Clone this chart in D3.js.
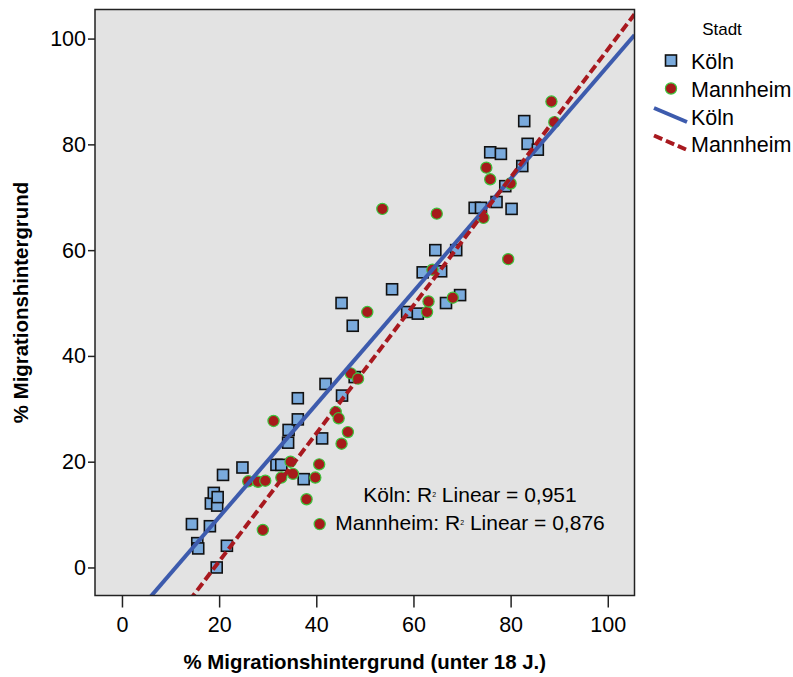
<!DOCTYPE html>
<html>
<head>
<meta charset="utf-8">
<script src="https://cdn.jsdelivr.net/npm/d3@7"></script>
<style>
    body { margin: 0; background: #fff; }
    text { font-family: "Liberation Sans", Arial, sans-serif; fill: #000; }
</style>
</head>
<body>
<svg id="chart" width="793" height="677"></svg>
<script>
// Koeln points: [% unter 18 J., % gesamt]
var koelnX = [14.4, 15.5, 15.7, 18.1, 18.3, 18.9, 19.5, 19.6, 19.7, 20.8, 21.6, 24.8, 31.8, 32.8, 34.2,
    34.3, 36.2, 36.2, 37.4, 41.2, 41.9, 45.3, 45.2, 47.5, 47.9, 55.6, 58.7, 60.9, 61.9, 64.5,
    65.7, 66.7, 68.8, 69.6, 72.6, 73.9, 77.1, 78.9, 80.2, 75.8, 78.0, 82.4, 82.8, 83.5, 85.6];
var koelnY = [8.2, 4.6, 3.6, 7.8, 12.1, 14.1, 0.0, 11.7, 13.3, 17.5, 4.1, 18.9, 19.4, 19.4, 23.6,
    26.0, 28.0, 32.0, 16.7, 24.4, 34.7, 32.5, 50.0, 45.7, 36.0, 52.6, 48.3, 48.0, 55.8, 60.0,
    56.0, 50.0, 60.0, 51.5, 68.0, 68.0, 69.1, 72.1, 67.8, 78.5, 78.2, 75.9, 84.4, 80.1, 79.0];

var mannheimX = [26.0, 28.0, 29.5, 29.0, 31.2, 32.8, 34.7, 35.2, 38.0, 39.8, 40.6, 40.7, 44.0, 44.6, 45.2,
    46.5, 47.1, 48.6, 50.5, 53.6, 62.8, 63.1, 63.9, 64.8, 68.1, 74.4, 75.0, 75.8, 79.5, 80.0,
    88.4, 89.0];
var mannheimY = [16.3, 16.2, 16.4, 7.1, 27.7, 17.0, 20.0, 17.7, 12.9, 17.0, 19.5, 8.2, 29.4, 28.2, 23.4,
    25.6, 36.7, 35.7, 48.3, 67.8, 48.3, 50.3, 56.3, 66.9, 51.0, 66.1, 75.6, 73.4, 58.3, 72.6,
    88.1, 84.2];

// linear fit lines: [intercept, slope]
var koelnFit = [-11.8, 1.066];
var mannheimFit = [-23.06, 1.21];

var xTicks = [0, 20, 40, 60, 80, 100];
var yTicks = [0, 20, 40, 60, 80, 100];
var cities = ["Köln", "Mannheim"];
var rsq = ["0,951", "0,876"];

var svg = d3.select("#chart");
var pLeft = 95, pRight = 634.5, pTop = 9.5, pBottom = 595.5;

var x = d3.scaleLinear().domain([-5.55, 105.5]).range([pLeft, pRight]);
var y = d3.scaleLinear().domain([-5.3, 105.5]).range([pBottom, pTop]);

svg.append("rect")
    .attr("x", pLeft).attr("y", pTop)
    .attr("width", pRight - pLeft).attr("height", pBottom - pTop)
    .attr("fill", "#e3e3e3");

svg.append("clipPath").attr("id", "plotclip")
    .append("rect")
    .attr("x", pLeft).attr("y", pTop)
    .attr("width", pRight - pLeft).attr("height", pBottom - pTop);

var xd = x.domain();
var g = svg.append("g").attr("clip-path", "url(#plotclip)");

// Koeln squares
g.selectAll("rect.koeln")
    .data(d3.range(koelnX.length))
    .enter().append("rect")
    .attr("class", "koeln")
    .attr("x", function (i) { return x(koelnX[i]) - 5.5; })
    .attr("y", function (i) { return y(koelnY[i]) - 5.5; })
    .attr("width", 11).attr("height", 11)
    .attr("fill", "#7aaadc")
    .attr("stroke", "#111")
    .attr("stroke-width", 1.6);

// Mannheim circles
g.selectAll("circle.mannheim")
    .data(d3.range(mannheimX.length))
    .enter().append("circle")
    .attr("class", "mannheim")
    .attr("cx", function (i) { return x(mannheimX[i]); })
    .attr("cy", function (i) { return y(mannheimY[i]); })
    .attr("r", 5.6)
    .attr("fill", "#a61b1b")
    .attr("stroke", "#3dc43d")
    .attr("stroke-width", 1.2);

// fit lines
g.append("line")
    .attr("x1", x(xd[0])).attr("y1", y(koelnFit[0] + koelnFit[1] * xd[0]))
    .attr("x2", x(xd[1])).attr("y2", y(koelnFit[0] + koelnFit[1] * xd[1]))
    .attr("stroke", "#3d5bad").attr("stroke-width", 4);

g.append("line")
    .attr("x1", x(xd[0])).attr("y1", y(mannheimFit[0] + mannheimFit[1] * xd[0]))
    .attr("x2", x(xd[1])).attr("y2", y(mannheimFit[0] + mannheimFit[1] * xd[1]))
    .attr("stroke", "#a8191f").attr("stroke-width", 4)
    .attr("stroke-dasharray", "9,4");

// frame
svg.append("rect")
    .attr("x", pLeft).attr("y", pTop)
    .attr("width", pRight - pLeft).attr("height", pBottom - pTop)
    .attr("fill", "none").attr("stroke", "#222").attr("stroke-width", 1.5);

// axes
var xAxis = svg.append("g")
    .attr("transform", "translate(0," + pBottom + ")")
    .call(d3.axisBottom(x).tickValues(xTicks).tickSize(12).tickPadding(9));
var yAxis = svg.append("g")
    .attr("transform", "translate(" + pLeft + ",0)")
    .call(d3.axisLeft(y).tickValues(yTicks).tickSize(7).tickPadding(2));

[xAxis, yAxis].forEach(function (a) {
    a.select(".domain").remove();
    a.selectAll(".tick line").attr("stroke", "#222").attr("stroke-width", 1.5);
    a.selectAll(".tick text").style("font-size", "21.5px").attr("fill", "#000");
});

svg.append("text")
    .attr("x", (pLeft + pRight) / 2).attr("y", 669)
    .attr("text-anchor", "middle")
    .style("font-size", "20.4px").style("font-weight", "bold")
    .text("% Migrationshintergrund (unter 18 J.)");

svg.append("text")
    .attr("transform", "translate(28," + ((pTop + pBottom) / 2) + ") rotate(-90)")
    .attr("text-anchor", "middle")
    .style("font-size", "20.4px").style("font-weight", "bold")
    .text("% Migrationshintergrund");

// R2 annotations
var ann = svg.append("g");
cities.forEach(function (c, i) {
    var t = ann.append("text")
        .attr("x", 470).attr("y", 501.5 + i * 28.5)
        .attr("text-anchor", "middle")
        .style("font-size", "21px");
    t.append("tspan").text(c + ": R");
    t.append("tspan").attr("dy", -5).style("font-size", "7px").text("2");
    t.append("tspan").attr("dy", 5).text(" Linear = " + rsq[i]);
});

// legend
var lg = svg.append("g");
lg.append("text").attr("x", 722).attr("y", 35).attr("text-anchor", "middle")
    .style("font-size", "17px").text("Stadt");

lg.append("rect").attr("x", 665.5).attr("y", 55).attr("width", 11).attr("height", 11)
    .attr("fill", "#7aaadc").attr("stroke", "#111").attr("stroke-width", 1.6);
lg.append("circle").attr("cx", 671).attr("cy", 88.5).attr("r", 5.6)
    .attr("fill", "#a61b1b").attr("stroke", "#3dc43d").attr("stroke-width", 1.2);
lg.append("line").attr("x1", 654).attr("y1", 108).attr("x2", 687).attr("y2", 122)
    .attr("stroke", "#3d5bad").attr("stroke-width", 4);
lg.append("line").attr("x1", 654).attr("y1", 135.5).attr("x2", 686).attr("y2", 149.5)
    .attr("stroke", "#a8191f").attr("stroke-width", 4).attr("stroke-dasharray", "9,4");

var legendLabels = [cities[0], cities[1], cities[0], cities[1]];
var legendY = [69, 97, 124.5, 152];
legendLabels.forEach(function (l, i) {
    lg.append("text").attr("x", 691).attr("y", legendY[i])
        .style("font-size", "21.5px").text(l);
});
</script>
</body>
</html>
